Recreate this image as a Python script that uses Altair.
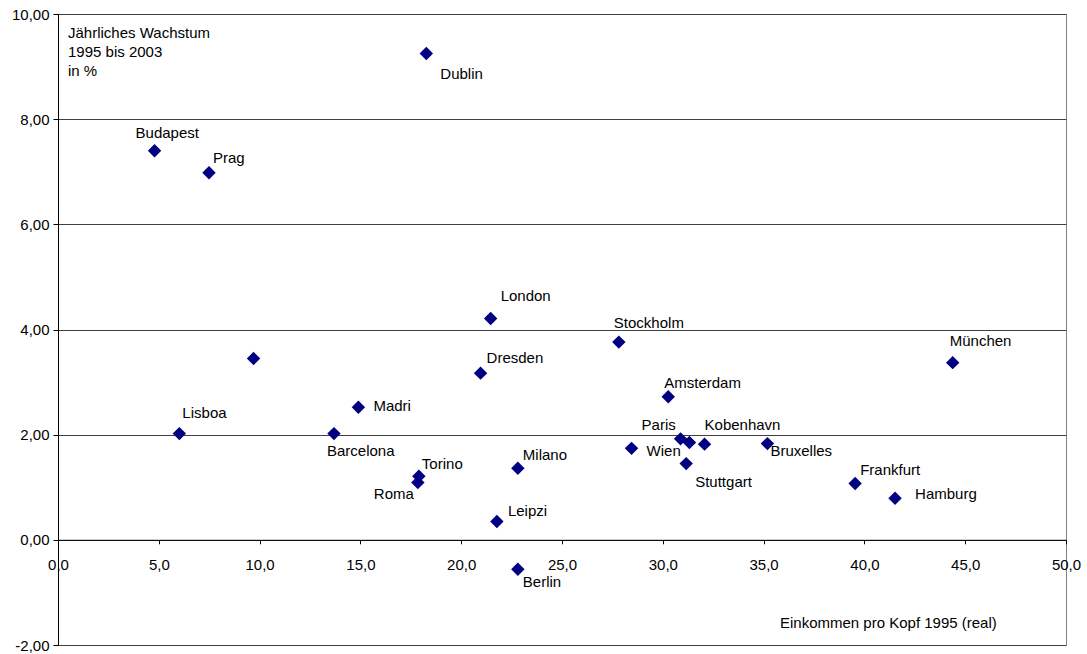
import altair as alt
import pandas as pd

cities = ["Budapest", "Prag", "Dublin", "", "Lisboa", "Madri", "Barcelona", "Torino", "Roma",
          "Milano", "Leipzi", "Berlin", "London", "Dresden", "Stockholm", "Amsterdam", "Paris",
          "", "Kobenhavn", "Wien", "Stuttgart", "Bruxelles", "Frankfurt", "Hamburg", "München"]
einkommen = [4.79, 7.49, 18.27, 9.70, 6.02, 14.90, 13.69, 17.90, 17.85,
             22.81, 21.77, 22.81, 21.46, 20.96, 27.82, 30.27, 30.88,
             31.32, 32.07, 28.45, 31.16, 35.19, 39.54, 41.52, 44.38]
wachstum = [7.40, 6.98, 9.25, 3.45, 2.02, 2.52, 2.02, 1.21, 1.09,
            1.36, 0.35, -0.56, 4.21, 3.17, 3.76, 2.72, 1.92,
            1.85, 1.82, 1.74, 1.45, 1.83, 1.07, 0.79, 3.37]

x_ticks = [0, 5, 10, 15, 20, 25, 30, 35, 40, 45, 50]
y_ticks = [-2, 0, 2, 4, 6, 8, 10]

# label offsets (pixels) relative to the marker: (dx, dy) with alphabetic baseline
label_offsets = {
    "Budapest": (-19, -13), "Prag": (4, -10), "Dublin": (14, 26), "Lisboa": (3, -16),
    "Madri": (15, 4), "Barcelona": (-7, 22), "Torino": (3, -7), "Roma": (-44, 16),
    "Milano": (5, -8), "Leipzi": (11, -5), "Berlin": (5, 18), "London": (10, -17),
    "Dresden": (6, -10), "Stockholm": (-5, -14), "Amsterdam": (-4, -9), "Paris": (-39, -9),
    "Kobenhavn": (0, -14), "Wien": (15, 8), "Stuttgart": (9, 23), "Bruxelles": (3, 12),
    "Frankfurt": (5, -9), "Hamburg": (20, 1), "München": (-3, -17),
}

df = pd.DataFrame({"city": cities, "x": einkommen, "y": wachstum})

FONT = "Liberation Sans"

xs = alt.X("x:Q",
           scale=alt.Scale(domain=[0, 50], nice=False, zero=False),
           axis=alt.Axis(values=x_ticks, title=None, grid=False, offset=-105.2,
                         labelExpr="replace(format(datum.value, '.1f'), '.', ',')",
                         domainColor="#000000", tickColor="#000000", tickSize=4,
                         labelPadding=14, labelFontSize=15, labelFont=FONT,
                         labelColor="#000000", labelFlush=False))
ys = alt.Y("y:Q",
           scale=alt.Scale(domain=[-2, 10], nice=False, zero=False),
           axis=alt.Axis(values=y_ticks, title=None, grid=True, gridColor="#404040",
                         gridOpacity=1, gridWidth=1,
                         labelExpr="replace(replace(format(datum.value, '.2f'), '.', ','), '\u2212', '-')",
                         domainColor="#000000", tickColor="#000000", tickSize=5,
                         labelPadding=4, labelFontSize=15, labelFont=FONT,
                         labelColor="#000000"))

base = alt.Chart(df)

points = base.mark_point(shape="diamond", filled=True, size=180, color="#000080",
                         opacity=1).encode(x=xs, y=ys)

layers = [points]
for name, (dx, dy) in label_offsets.items():
    layers.append(
        base.transform_filter(alt.datum.city == name)
        .mark_text(align="left", baseline="alphabetic", dx=dx, dy=dy,
                   fontSize=15, font=FONT, color="#000000")
        .encode(x="x:Q", y="y:Q", text="city:N")
    )

ytitle = alt.Chart(pd.DataFrame({"t": [0]})).mark_text(
    align="left", baseline="alphabetic", fontSize=15, font=FONT, color="#000000",
    lineHeight=19,
    text=["Jährliches Wachstum", "1995 bis 2003", "in %"]
).encode(x=alt.value(10), y=alt.value(24))

xtitle = alt.Chart(pd.DataFrame({"t": [0]})).mark_text(
    align="left", baseline="alphabetic", fontSize=15, font=FONT, color="#000000",
    text="Einkommen pro Kopf 1995 (real)"
).encode(x=alt.value(722), y=alt.value(614))

layers += [ytitle, xtitle]

chart = alt.layer(*layers).properties(
    width=1008, height=631,
    autosize=alt.AutoSizeParams(type="none"),
    padding={"left": 58, "top": 14, "right": 21, "bottom": 9},
    background="#ffffff",
).configure_view(stroke="#808080", strokeWidth=1)

chart.save("out.html", embed_options={"renderer": "svg", "actions": False})
